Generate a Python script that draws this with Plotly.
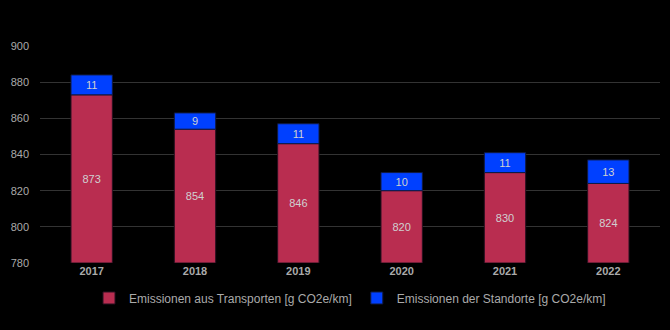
import plotly.graph_objects as go

years = ["2017", "2018", "2019", "2020", "2021", "2022"]
transport = [873, 854, 846, 820, 830, 824]
standorte = [11, 9, 11, 10, 11, 13]
name_transport = "Emissionen aus Transporten [g CO2e/km]"
name_standorte = "Emissionen der Standorte [g CO2e/km]"
y_ticks = [780, 800, 820, 840, 860, 880, 900]
y_min, y_max = 780, 900

FONT = "Liberation Sans, Arial, sans-serif"
LABEL_FONT = dict(color="#d0d0d0", size=11, family=FONT)

fig = go.Figure()
# lower segment starts at the axis floor so its label sits in the visible part
fig.add_trace(go.Bar(
    x=years, y=[v - y_min for v in transport], base=[y_min] * len(years),
    name=name_transport,
    marker=dict(color="#B92D50", line=dict(color="#2a1020", width=1)),
    text=[str(v) for v in transport], textposition="inside",
    insidetextanchor="middle", textangle=0, textfont=LABEL_FONT,
    hovertext=[str(v) for v in transport],
))
# upper segment stacked on top of the transport value
fig.add_trace(go.Bar(
    x=years, y=standorte, base=transport,
    name=name_standorte,
    marker=dict(color="#0040FF", line=dict(color="#101a40", width=1)),
    text=[str(v) for v in standorte], textposition="inside",
    insidetextanchor="middle", textangle=0, textfont=LABEL_FONT,
))

fig.update_layout(
    barmode="overlay",
    bargap=0.6,
    width=670, height=330,
    margin=dict(l=40, r=10, t=46, b=67, autoexpand=False),
    paper_bgcolor="#000000",
    plot_bgcolor="#000000",
    font=dict(family=FONT, color="#aaaaaa", size=11),
    uniformtext=dict(minsize=11, mode="show"),
    legend=dict(
        orientation="h", x=0.5, xanchor="center",
        yref="container", y=0.097, yanchor="middle",
        font=dict(size=12, color="#aaaaaa", family=FONT),
        itemwidth=30, traceorder="normal",
    ),
    xaxis=dict(
        type="category",
        tickfont=dict(size=11, color="#aaaaaa", family=FONT, weight="bold"),
        showgrid=False, showline=False, ticks="",
    ),
    yaxis=dict(
        range=[y_min, y_max], tickvals=y_ticks,
        gridcolor="#333333", gridwidth=1,
        zeroline=False, showline=False, ticks="",
        ticklabelstandoff=10,
        tickfont=dict(size=11, color="#aaaaaa"),
    ),
)

fig.write_html("out.html")
